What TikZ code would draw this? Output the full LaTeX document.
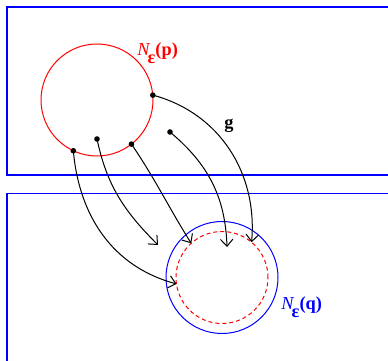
\documentclass[tikz,border=0pt]{standalone}
\usepackage{fontspec}
\setmainfont{Liberation Serif}
\usetikzlibrary{arrows.meta, math}

\tikzset{
lbl/.style={font=\fontsize{11}{13}\selectfont, inner sep=0},
map/.style={line width=0.6, -{Straight Barb[length=4.2pt,width=7.5pt]}},
}
\newcommand{\nbhd}[1]{\textit{N}\kern-0.15em\raisebox{-1ex}{\textbf{ε}}\textbf{(#1)}}

\begin{document}
\begin{tikzpicture}[x=0.6pt,y=0.6pt]
\tikzmath{
\R=56;
\r=46;
}
\useasboundingbox (0,0) rectangle (388,361);

\coordinate (P) at (97,261);
\coordinate (Q) at (222,83.5);

% the two spaces
\draw[blue, line width=0.7] (388,354) -- (7,354) -- (7,186) -- (388,186);
\draw[blue, line width=0.7] (388,167.5) -- (7,167.5) -- (7,0);

\draw[red, line width=0.6] (P) circle (\R);
\draw[blue, line width=0.6] (Q) circle (\R);
\draw[red, line width=0.6, dash pattern=on 2.4pt off 1.8pt] (Q) circle (\r);

\node[lbl, red, anchor=south west] (lp) at (137,297) {\nbhd{p}};
\node[lbl, blue, anchor=south west] (lq) at (281,43) {\nbhd{q}};
\node[lbl, font=\fontsize{11}{13}\selectfont\bfseries] (g) at (229,235) {g};

\coordinate (p1) at ([shift={(5:\R)}]P);
\coordinate (p2) at (170,229);
\coordinate (p3) at ([shift={(-52:\R)}]P);
\coordinate (p4) at (97,222);
\coordinate (p5) at ([shift={(-115:\R)}]P);

\coordinate (q1) at ([shift={(50:\r)}]Q);
\coordinate (q2) at (227,114);
\coordinate (q3) at ([shift={(132:\r)}]Q);
\coordinate (q4) at (158,116);
\coordinate (q5) at ([shift={(188:\r)}]Q);

\foreach \i in {1,...,5}
  \fill (p\i) circle (2.8);

\draw[map] (p1) to[out=-15, in=85] (q1);
\draw[map] (p2) to[out=-40, in=92] (q2);
\draw[map] (p3) to[out=-56, in=122] (q3);
\draw[map] (p4) to[out=-78, in=135] (q4);
\draw[map] (p5) to[out=-85, in=165] (q5);

\end{tikzpicture}
\end{document}
